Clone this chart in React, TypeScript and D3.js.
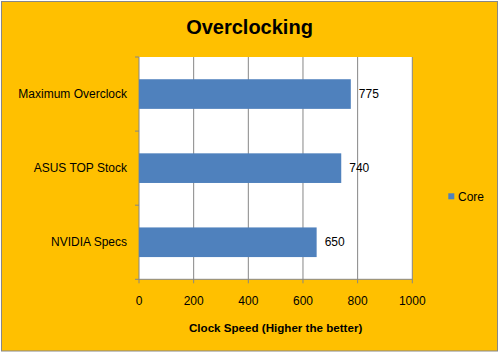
import React from "react";
import * as d3 from "d3";

const categories = ["Maximum Overclock", "ASUS TOP Stock", "NVIDIA Specs"];
const values = [775, 740, 650];
const xTicks = [0, 200, 400, 600, 800, 1000];
const seriesName = "Core";
const title = "Overclocking";
const xTitle = "Clock Speed (Higher the better)";

export default function App() {
  const W = 499, H = 353;
  const left = 139, right = 412.3, top = 57, bottom = 279.3;
  const x = d3.scaleLinear().domain([0, 1000]).range([left, right]);
  const y = d3.scaleBand<string>().domain(categories).range([top, bottom]).paddingInner(0.6).paddingOuter(0.3);
  const step = y.step();
  const font = "'Liberation Sans', Arial, sans-serif";
  const grid = "#868686";
  const boundaries = d3.range(categories.length + 1).map((i) => top + i * (bottom - top) / categories.length);
  return (
    <svg width={W} height={H} style={{ position: "absolute", left: 0, top: 0 }} fontFamily={font}>
      <rect x={0} y={0} width={W} height={H} fill="#ffffff" />
      <rect x={1.5} y={1.5} width={496} height={349.5} fill="#FFC000" stroke="#878787" strokeWidth={1} />
      <text x={249.5} y={34} textAnchor="middle" fontSize={20} fontWeight="bold" fill="#000">{title}</text>
      <rect x={left} y={top} width={right - left} height={bottom - top} fill="#ffffff" />
      {xTicks.map((t) => (
        <line key={"g" + t} x1={x(t)} x2={x(t)} y1={top} y2={bottom + 4} stroke={grid} strokeWidth={1} />
      ))}
      <line x1={left} x2={right} y1={bottom} y2={bottom} stroke={grid} strokeWidth={1} />
      {boundaries.map((b, i) => (
        <line key={"b" + i} x1={left - 4} x2={left} y1={b} y2={b} stroke={grid} strokeWidth={1} />
      ))}
      {categories.map((c, i) => (
        <g key={c}>
          <rect x={x(0)} y={y(c)!} width={x(values[i]) - x(0)} height={y.bandwidth()} fill="#4F81BD" />
          <text x={x(values[i]) + 8} y={y(c)! + y.bandwidth() / 2} dominantBaseline="central" fontSize={12} fill="#000">{values[i]}</text>
          <text x={127} y={y(c)! + y.bandwidth() / 2} dominantBaseline="central" textAnchor="end" fontSize={12} fill="#000">{c}</text>
        </g>
      ))}
      {xTicks.map((t) => (
        <text key={"t" + t} x={x(t)} y={301} dominantBaseline="central" textAnchor="middle" fontSize={12} fill="#000">{t}</text>
      ))}
      <text x={(left + right) / 2} y={327} dominantBaseline="central" textAnchor="middle" fontSize={11.6} fontWeight="bold" fill="#000">{xTitle}</text>
      <rect x={448.3} y={193.3} width={6} height={6} fill="#4F81BD" />
      <text x={458} y={196.5} dominantBaseline="central" fontSize={12} fill="#000">{seriesName}</text>
    </svg>
  );
}
